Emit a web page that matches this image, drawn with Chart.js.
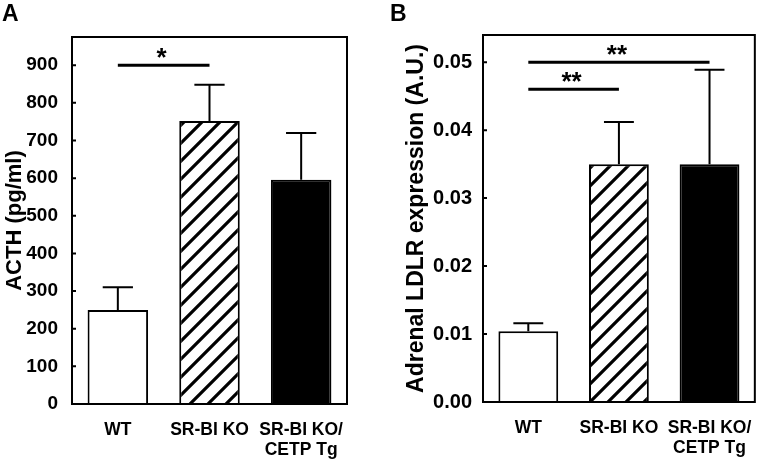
<!DOCTYPE html>
<html>
<head>
<meta charset="utf-8">
<script src="https://cdn.jsdelivr.net/npm/chart.js@4.4.1/dist/chart.umd.min.js"></script>
<style>
  body { margin: 0; background: #fff; }
  #wrap { position: relative; width: 761px; height: 459px; }
  .panel { position: absolute; top: 0; }
  .tag { position: absolute; top: 2px; font: bold 23px "Liberation Sans", Arial, sans-serif; line-height: 22px; }
</style>
</head>
<body>
<div id="wrap">
  <canvas id="acthChart" class="panel" width="380" height="459" style="left:0"></canvas>
  <canvas id="ldlrChart" class="panel" width="381" height="459" style="left:380px"></canvas>
  <div class="tag" style="left:2px">A</div>
  <div class="tag" style="left:390px">B</div>
</div>
<script>
// ================= DATA =================
const groups = [["WT"], ["SR-BI KO"], ["SR-BI KO/", "CETP Tg"]];

const acthMean = [250, 752, 596];
const acthErr = [60, 96, 124];
const acthTicks = [0, 100, 200, 300, 400, 500, 600, 700, 800, 900];
// significance bars: from group, to group, height, mark
const acthSig = [[0, 1, 900, "*"]];

const ldlrMean = [0.0104, 0.035, 0.035];
const ldlrErr = [0.0012, 0.0062, 0.0139];
const ldlrTicks = [0, 0.01, 0.02, 0.03, 0.04, 0.05];
const ldlrSig = [[0, 1, 0.046, "**"], [0, 2, 0.05, "**"]];

const FONT = "'Liberation Sans', Arial, sans-serif";

// diagonal hatch for the middle bar
function hatch() {
    const s = 18;
    const c = document.createElement("canvas");
    c.width = s; c.height = s;
    const g = c.getContext("2d");
    g.fillStyle = "#fff";
    g.fillRect(0, 0, s, s);
    g.strokeStyle = "#000";
    g.lineWidth = 3.2;
    g.beginPath();
    g.moveTo(-2, s + 2); g.lineTo(s + 2, -2);
    g.moveTo(-2, 2); g.lineTo(2, -2);
    g.moveTo(s - 2, s + 2); g.lineTo(s + 2, s - 2);
    g.stroke();
    return g.createPattern(c, "repeat");
}
const fills = ["#ffffff", hatch(), "#000000"];

// error bars, frame, inward ticks and significance marks
function overlay(errors, sigs) {
    return {
        id: "overlay",
        afterDraw(chart) {
            const ctx = chart.ctx;
            const area = chart.chartArea;
            const xs = chart.scales.x, ys = chart.scales.y;
            const vals = chart.data.datasets[0].data;
            ctx.save();
            ctx.strokeStyle = "#000";
            ctx.lineWidth = 2;
            ctx.beginPath();
            chart.getDatasetMeta(0).data.forEach((bar, i) => {
                const top = ys.getPixelForValue(vals[i] + errors[i]);
                const half = bar.width / 4;
                ctx.moveTo(bar.x, bar.y);
                ctx.lineTo(bar.x, top);
                ctx.moveTo(bar.x - half, top);
                ctx.lineTo(bar.x + half, top);
            });
            ys.ticks.forEach(t => {
                const py = ys.getPixelForValue(t.value);
                ctx.moveTo(area.left, py);
                ctx.lineTo(area.left + 4, py);
            });
            ctx.stroke();
            ctx.strokeRect(area.left, area.top, area.right - area.left, area.bottom - area.top);

            ctx.lineWidth = 3;
            ctx.fillStyle = "#000";
            ctx.font = "bold 26px " + FONT;
            ctx.textAlign = "center";
            ctx.textBaseline = "alphabetic";
            sigs.forEach(([a, b, v, mark]) => {
                const x1 = xs.getPixelForValue(a), x2 = xs.getPixelForValue(b);
                const py = ys.getPixelForValue(v);
                ctx.beginPath();
                ctx.moveTo(x1, py);
                ctx.lineTo(x2, py);
                ctx.stroke();
                ctx.fillText(mark, (x1 + x2) / 2 - 2, py + 1);
            });
            ctx.restore();
        }
    };
}

function panel(id, values, errors, ticks, sigs, yMax, title, opt) {
    return new Chart(document.getElementById(id), {
        type: "bar",
        data: {
            labels: groups,
            datasets: [{
                data: values,
                backgroundColor: fills,
                borderColor: "#000",
                borderWidth: 2,
                categoryPercentage: 1,
                barPercentage: 0.66
            }]
        },
        options: {
            responsive: false,
            animation: false,
            layout: { padding: { left: 0, top: opt.top, right: opt.right, bottom: 0 } },
            plugins: { legend: { display: false }, tooltip: { enabled: false } },
            scales: {
                x: {
                    grid: { display: false },
                    border: { display: false },
                    ticks: {
                        color: "#000",
                        padding: opt.xPad,
                        maxRotation: 0,
                        font: { family: FONT, size: 17.5, weight: "bold", lineHeight: 1.1 }
                    },
                    afterFit: s => { s.height = opt.xHeight; }
                },
                y: {
                    min: 0,
                    max: yMax,
                    grid: { display: false },
                    border: { display: false },
                    afterBuildTicks: s => { s.ticks = ticks.map(v => ({ value: v })); },
                    ticks: {
                        color: "#000",
                        padding: opt.yPad,
                        font: { family: FONT, size: opt.tickSize, weight: "bold" },
                        callback: v => opt.fmt(v)
                    },
                    title: {
                        display: true,
                        text: title,
                        color: "#000",
                        padding: { top: opt.titlePad, bottom: 0 },
                        font: { family: FONT, size: opt.titleSize, weight: "bold" }
                    },
                    afterFit: s => { s.width = opt.yWidth; }
                }
            }
        },
        plugins: [overlay(errors, sigs)]
    });
}

// ================= ACTH =================
panel("acthChart", acthMean, acthErr, acthTicks, acthSig, 975, "ACTH (pg/ml)", {
    top: 37, right: 33, xHeight: 55, yWidth: 72, xPad: 9, yPad: 6, titlePad: 2,
    tickSize: 19, titleSize: 22,
    fmt: v => String(v)
});

// ================= ADRENAL LDLR =================
panel("ldlrChart", ldlrMean, ldlrErr, ldlrTicks, ldlrSig, 0.054, "Adrenal LDLR expression (A.U.)", {
    top: 35, right: 4, xHeight: 57, yWidth: 103, xPad: 9, yPad: 3, titlePad: 23,
    tickSize: 20, titleSize: 23,
    fmt: v => v.toFixed(2)
});
</script>
</body>
</html>
